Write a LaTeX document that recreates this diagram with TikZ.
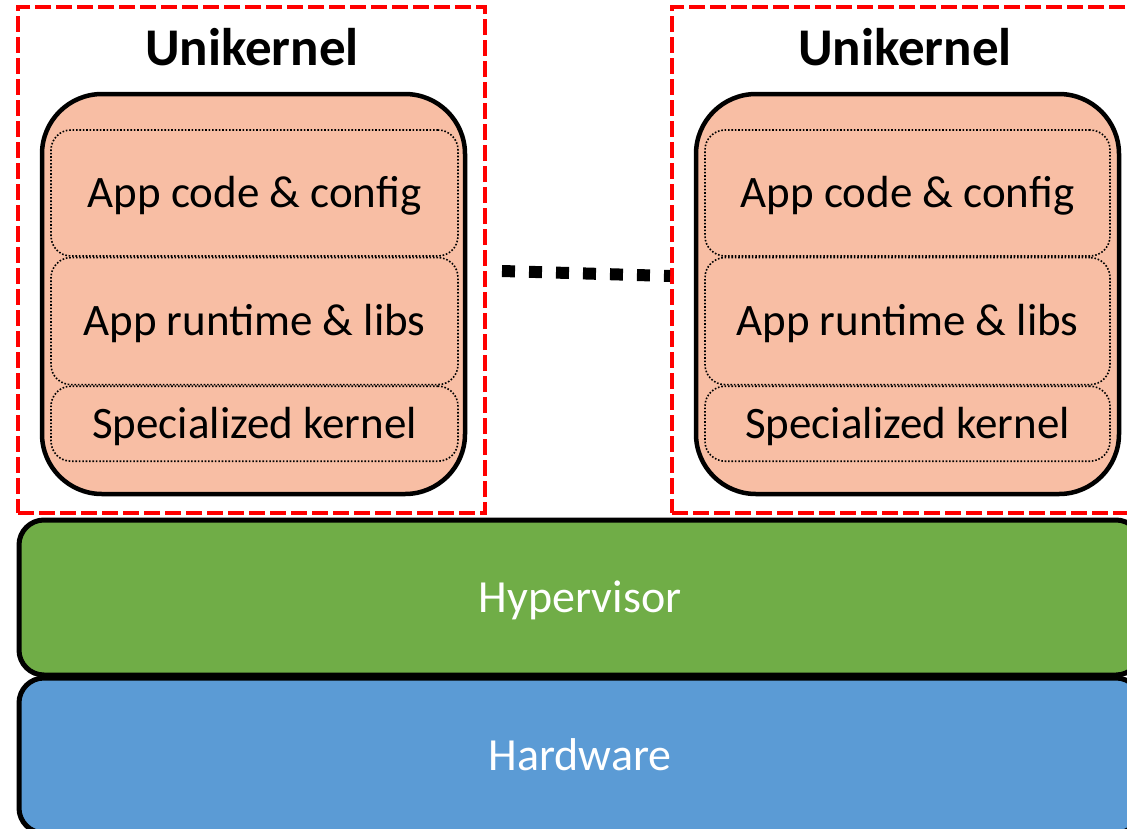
\documentclass[tikz,border=0pt]{standalone}
\usepackage{fontspec}
\setmainfont{Carlito}
\usetikzlibrary{positioning}
\definecolor{salmon}{RGB}{248,190,164}
\definecolor{hvgreen}{RGB}{112,173,71}
\definecolor{hwblue}{RGB}{91,155,213}

\begin{document}
\begin{tikzpicture}[x=1pt,y=-1pt]
\tikzstyle{ukframe}=[draw=red,line width=4pt,dash pattern=on 16pt off 5pt,minimum width=467pt,minimum height=506pt,inner sep=0pt]
\tikzstyle{uktitle}=[anchor=base,font=\fontsize{53}{63}\selectfont\bfseries]
\tikzstyle{vm}=[draw=black,fill=salmon,line width=4.5pt,rounded corners=60pt,minimum width=423pt,minimum height=400pt,inner sep=0pt]
\tikzstyle{layer}=[draw=black,line width=1.6pt,dash pattern=on 1.6pt off 1.8pt,rounded corners=20pt,minimum width=407pt,inner sep=0pt,text height=29pt,text depth=0pt,font=\fontsize{45}{54}\selectfont]
\tikzstyle{base}=[draw=black,line width=5pt,rounded corners=25pt,minimum width=1122pt,minimum height=155pt,inner sep=0pt,text=white,text height=30pt,text depth=0pt,font=\fontsize{46}{55}\selectfont]
\useasboundingbox (0,0) rectangle (1127,828);
\clip (0,0) rectangle (1127,828);
% unikernel frames
\node[ukframe] (ukL) at (251.5,260) {};
\node[ukframe] (ukR) at (905.5,260) {};
\node[uktitle] (titleL) at (252,65) {Unikernel};
\node[uktitle] (titleR) at (905,65) {Unikernel};
% unikernel stacks
\node[vm] (vmL) at (253.5,294) {};
\node[vm] (vmR) at (907.5,294) {};
\node[layer, minimum height=126pt] (appL) at (254.5,193) {App code \& config};
\node[layer, minimum height=127pt] (rtL) [below=0pt of appL] {App runtime \& libs};
\node[layer, minimum height=75pt]  (kerL) [below=0pt of rtL] {Specialized kernel};
\node[layer, minimum height=126pt, minimum width=405pt] (appR) at (907.5,193) {App code \& config};
\node[layer, minimum height=127pt, minimum width=405pt] (rtR) [below=0pt of appR] {App runtime \& libs};
\node[layer, minimum height=75pt, minimum width=405pt]  (kerR) [below=0pt of rtR] {Specialized kernel};
% platform
\node[base, fill=hvgreen] (hyp) at (580,597.5) {Hypervisor};
\node[base, fill=hwblue] (hw) [below=-2pt of hyp] {Hardware};
\draw[line width=12pt,dash pattern=on 13pt off 14pt]
  ([xshift=15pt,yshift=-11pt]ukL.east) -- ([yshift=-16pt]ukR.west);
\end{tikzpicture}
\end{document}
